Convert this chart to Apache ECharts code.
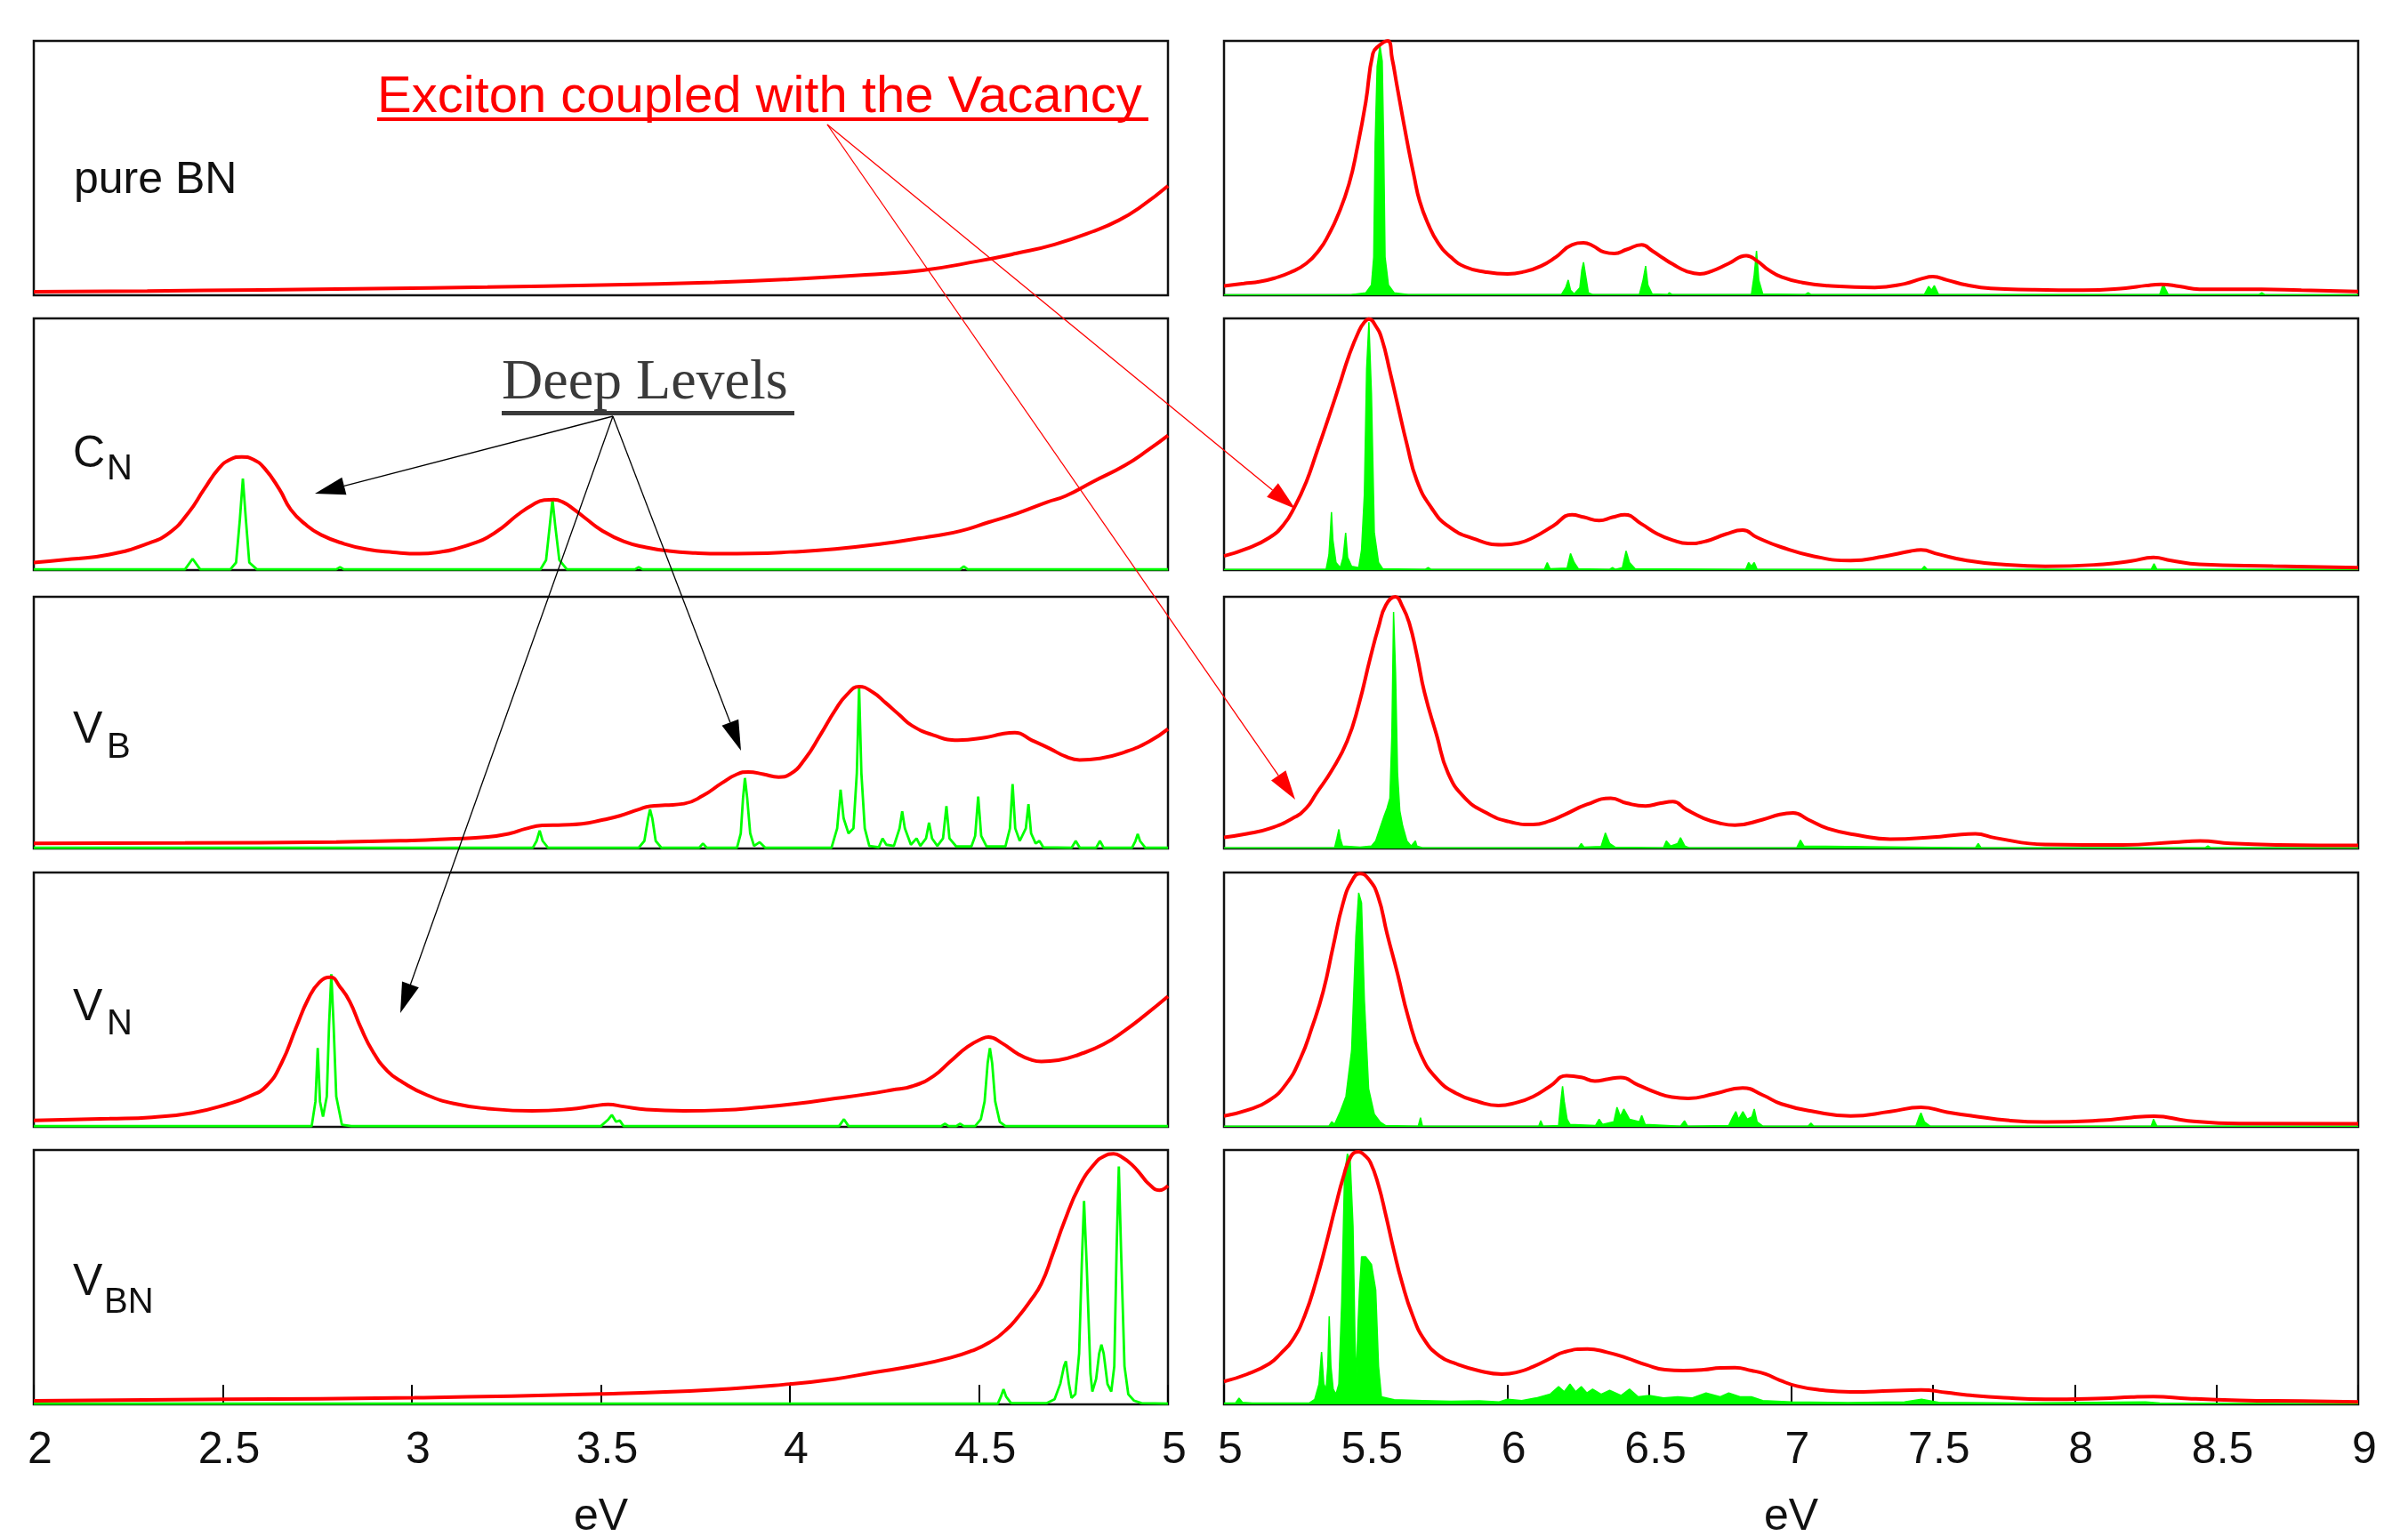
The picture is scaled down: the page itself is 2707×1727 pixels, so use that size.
<!DOCTYPE html>
<html><head><meta charset="utf-8">
<script src="https://cdn.jsdelivr.net/npm/echarts@6/dist/echarts.min.js"></script>
<style>html,body{margin:0;padding:0;background:#fff}#c{width:2707px;height:1727px}</style>
</head><body><div id="c"></div><script>
// ---------- tick labels / ranges ----------
const leftRange = [2, 5];
const rightRange = [5, 9];
const tickStep = 0.5;
const panelNames = ['pure BN', 'C_N', 'V_B', 'V_N', 'V_BN'];

// ---------- LEFT column (2-5 eV), values in % of panel height ----------
const pureBN_L_red = [[2.0,1.4],[2.3,1.7],[2.6,2.1],[2.9,2.6],[3.2,3.2],[3.5,4.0],[3.8,5.1],[4.0,6.3],[4.2,8.0],[4.35,9.8],[4.5,13.5],[4.6,16.5],[4.7,20],[4.8,25],[4.87,29.5],[4.93,35],[5.0,43]];

const CN_L_red = [[2.0,3.0],[2.1,4.4],[2.2,6.2],[2.3,10.5],[2.36,15],[2.41,23],[2.45,32],[2.49,40.5],[2.52,44],[2.55,45],[2.58,44],[2.61,40.5],[2.65,32],[2.68,24],[2.72,18],[2.76,14],[2.82,10.5],[2.88,8.3],[2.95,7.1],[3.02,6.5],[3.08,7.3],[3.12,8.6],[3.17,11],[3.2,13],[3.24,17],[3.28,22],[3.32,26],[3.35,27.8],[3.375,28],[3.4,27],[3.43,24],[3.46,20.5],[3.5,16],[3.56,11.4],[3.62,9],[3.68,7.6],[3.75,6.8],[3.82,6.5],[3.9,6.6],[4.0,7.2],[4.12,8.4],[4.25,10.6],[4.34,12.6],[4.38,13.5],[4.45,15.5],[4.525,19],[4.6,22.5],[4.68,27],[4.73,29.5],[4.8,35],[4.887,41.7],[4.95,48],[5.0,53.5]];
const CN_L_green = [[2.0,0.3],[2.40,0.3],[2.42,4.5],[2.44,0.3],[2.52,0.3],[2.535,3],[2.545,20],[2.553,36.4],[2.561,20],[2.57,3],[2.59,0.3],[2.80,0.3],[2.81,1.2],[2.82,0.3],[3.34,0.3],[3.355,4],[3.365,18],[3.372,28],[3.379,18],[3.39,4],[3.41,0.3],[3.59,0.3],[3.60,1.2],[3.61,0.3],[4.45,0.3],[4.46,1.5],[4.47,0.3],[5.0,0.3]];

const VB_L_red = [[2.0,2.0],[2.4,2.2],[2.8,2.6],[3.0,3.2],[3.1,3.8],[3.2,4.6],[3.26,6],[3.3,7.8],[3.345,9.2],[3.4,9.4],[3.45,9.8],[3.5,11.2],[3.55,13],[3.6,15.5],[3.63,16.8],[3.67,17.2],[3.72,17.8],[3.77,21],[3.82,26],[3.86,29.5],[3.89,30.4],[3.93,29.5],[3.97,28.4],[4.0,29.5],[4.04,35.6],[4.08,45],[4.12,55],[4.15,61],[4.183,64.3],[4.22,62],[4.253,57.9],[4.29,53],[4.323,48.8],[4.38,45],[4.444,43],[4.52,44.2],[4.56,45.5],[4.595,46],[4.64,43],[4.686,39.8],[4.73,36.5],[4.766,35.2],[4.82,35.8],[4.887,38.4],[4.95,42.5],[5.0,47.5]];
const VB_L_green = [[2.0,0.3],[3.32,0.3],[3.33,3],[3.338,7.1],[3.346,3],[3.36,0.3],[3.60,0.3],[3.615,3],[3.625,12],[3.63,15.5],[3.636,12],[3.645,3],[3.66,0.3],[3.76,0.3],[3.77,2],[3.78,0.3],[3.86,0.3],[3.87,6],[3.876,20],[3.881,28],[3.887,20],[3.895,6],[3.905,1],[3.92,2.5],[3.935,0.3],[4.11,0.3],[4.125,8],[4.134,23.4],[4.142,12],[4.155,6],[4.168,8],[4.177,30],[4.183,64],[4.189,30],[4.198,8],[4.21,1],[4.235,0.5],[4.245,4],[4.255,1.5],[4.275,1],[4.29,8],[4.297,14.8],[4.304,8],[4.32,1.5],[4.335,4],[4.345,1],[4.36,4],[4.368,10.2],[4.376,4],[4.39,1],[4.405,4],[4.414,16.8],[4.422,4],[4.44,0.8],[4.48,0.8],[4.49,5],[4.498,20.6],[4.506,5],[4.52,0.8],[4.57,0.8],[4.582,8],[4.589,25.6],[4.596,8],[4.608,3],[4.624,8],[4.631,17.6],[4.638,6],[4.65,2],[4.66,3],[4.67,0.5],[4.745,0.3],[4.756,3],[4.767,0.3],[4.81,0.3],[4.82,3],[4.83,0.3],[4.905,0.3],[4.914,3],[4.92,5.8],[4.926,3],[4.94,0.3],[5.0,0.3]];

const VN_L_red = [[2.0,2.5],[2.2,3.2],[2.313,3.8],[2.42,5.5],[2.514,9],[2.57,12],[2.615,16],[2.655,25],[2.695,39.5],[2.725,50],[2.755,56.8],[2.785,58.8],[2.81,55],[2.836,49.2],[2.865,39],[2.896,29.8],[2.935,22],[2.976,17.5],[3.04,12.5],[3.117,9],[3.2,7.2],[3.318,6.3],[3.42,7],[3.48,8.2],[3.519,8.8],[3.56,8],[3.62,6.8],[3.72,6.3],[3.82,6.6],[3.921,7.7],[4.02,9.2],[4.12,11.2],[4.2,12.8],[4.27,14.5],[4.324,16],[4.38,20],[4.424,25.7],[4.47,31.5],[4.51,34.8],[4.525,35.3],[4.56,33],[4.605,28.5],[4.635,26.5],[4.665,25.7],[4.71,26.2],[4.766,28.5],[4.83,32.5],[4.887,38],[4.94,44],[5.0,51.3]];
const VN_L_green = [[2.0,0.3],[2.735,0.3],[2.745,10],[2.751,31],[2.757,10],[2.765,4],[2.775,12],[2.781,40],[2.787,60],[2.793,40],[2.80,12],[2.815,0.8],[2.84,0.3],[3.50,0.3],[3.52,3],[3.529,4.7],[3.54,2],[3.55,2.5],[3.56,0.3],[4.13,0.3],[4.143,3],[4.155,0.3],[4.40,0.3],[4.41,1.2],[4.42,0.3],[4.44,0.3],[4.45,1.2],[4.46,0.3],[4.49,0.3],[4.505,3],[4.515,10],[4.523,25],[4.529,31],[4.535,25],[4.543,10],[4.555,2],[4.57,0.3],[5.0,0.3]];

const VBN_L_red = [[2.0,1.4],[2.51,2.0],[3.006,2.6],[3.499,4.1],[3.8,5.8],[4.0,8],[4.12,10],[4.22,12.5],[4.33,15.2],[4.424,18.3],[4.48,21],[4.525,24.1],[4.57,29],[4.605,34.6],[4.635,40.5],[4.665,47.4],[4.695,59],[4.726,71.9],[4.766,85.9],[4.806,94.6],[4.83,97.5],[4.856,98.5],[4.88,97],[4.906,94],[4.93,90],[4.947,87],[4.977,84.2],[5.0,86]];
const VBN_L_green = [[2.0,0.3],[4.55,0.3],[4.558,3],[4.565,6],[4.572,3],[4.585,0.5],[4.68,0.5],[4.70,2],[4.715,8],[4.725,15],[4.73,17],[4.738,8],[4.745,2.5],[4.755,4],[4.765,20],[4.772,55],[4.778,80],[4.785,55],[4.795,12],[4.80,5],[4.81,10],[4.818,20],[4.824,23.5],[4.83,20],[4.84,8],[4.85,5],[4.858,15],[4.864,60],[4.87,93.5],[4.876,60],[4.885,15],[4.895,4],[4.91,1.5],[4.93,0.5],[5.0,0.3]];

// ---------- RIGHT column (5-9 eV) ----------
const pureBN_R_red = [[5.0,3.7],[5.07,4.6],[5.128,5.4],[5.18,6.8],[5.232,8.9],[5.29,12.5],[5.337,18],[5.37,24],[5.4,31],[5.441,43.8],[5.47,58],[5.5,76],[5.525,95],[5.545,98],[5.577,100],[5.593,93],[5.609,83],[5.63,70],[5.65,58],[5.67,47],[5.69,37],[5.72,28],[5.755,20.6],[5.8,15],[5.85,11.2],[5.92,9.2],[6.0,8.4],[6.06,9.3],[6.118,11.5],[6.17,15],[6.227,19.8],[6.268,20.6],[6.3,19.5],[6.34,17],[6.377,16.4],[6.42,18],[6.473,19.8],[6.51,17.5],[6.55,14.5],[6.583,12.2],[6.63,9.5],[6.678,8.4],[6.72,9.5],[6.78,12.5],[6.842,15.6],[6.88,13.5],[6.92,10],[6.966,7.2],[7.04,5],[7.13,3.8],[7.295,3.1],[7.4,4.5],[7.46,6.5],[7.5,7.3],[7.55,6],[7.62,4],[7.704,2.7],[7.85,2.2],[8.03,2],[8.18,2.8],[8.25,3.8],[8.305,4.3],[8.37,3.5],[8.44,2.4],[8.66,2.4],[8.8,2],[9.0,1.5]];
const pureBN_R_green = [[5.0,0.2],[5.45,0.3],[5.50,1],[5.52,4],[5.528,15],[5.533,60],[5.54,90],[5.55,98],[5.558,92],[5.563,60],[5.568,15],[5.58,4],[5.6,1],[5.65,0.3],[6.19,0.3],[6.205,3],[6.214,6],[6.222,2],[6.235,0.5],[6.255,3],[6.262,10],[6.268,13],[6.275,8],[6.285,1],[6.3,0.3],[6.465,0.3],[6.478,6],[6.487,11.5],[6.495,4],[6.51,0.5],[6.565,0.3],[6.57,1],[6.58,0.3],[6.86,0.3],[6.87,8],[6.878,17.5],[6.886,6],[6.9,0.5],[7.05,0.3],[7.06,1],[7.07,0.3],[7.47,0.3],[7.485,3.5],[7.495,2],[7.505,3.8],[7.52,0.3],[8.3,0.3],[8.308,3],[8.313,4.3],[8.32,2.5],[8.33,0.3],[8.65,0.3],[8.66,1],[8.67,0.3],[9.0,0.2]];

const CN_R_red = [[5.0,5.6],[5.08,8.5],[5.16,12.9],[5.21,18],[5.25,25.3],[5.29,35],[5.325,46.2],[5.37,61],[5.407,73.5],[5.44,85],[5.475,94.8],[5.495,98.5],[5.511,99.7],[5.535,97],[5.557,91.7],[5.585,79],[5.612,65.9],[5.645,50],[5.68,35.6],[5.73,25],[5.79,17.5],[5.88,12.5],[5.981,10.1],[6.04,10.8],[6.09,12.9],[6.16,17.5],[6.227,22],[6.27,21],[6.323,19.7],[6.37,21],[6.413,22],[6.47,18.5],[6.528,14.4],[6.58,12],[6.637,10.6],[6.7,11.5],[6.77,14.3],[6.829,15.9],[6.88,13],[6.966,9.1],[7.08,5.5],[7.21,3.8],[7.33,5.5],[7.42,7.5],[7.458,8],[7.52,6.3],[7.62,3.8],[7.75,2.2],[7.896,1.5],[8.1,2.3],[8.2,3.6],[8.278,5],[8.34,3.8],[8.44,2.3],[8.7,1.6],[9.0,1.0]];
const CN_R_green = [[5.0,0.3],[5.36,0.3],[5.37,6],[5.375,15],[5.379,23],[5.384,12],[5.395,3],[5.41,1],[5.42,5],[5.429,14.8],[5.436,5],[5.45,1.5],[5.475,1],[5.485,8],[5.495,30],[5.503,80],[5.511,98.5],[5.52,70],[5.53,15],[5.545,3],[5.56,0.5],[5.71,0.3],[5.72,1],[5.73,0.3],[6.13,0.3],[6.14,3],[6.15,0.5],[6.21,0.8],[6.222,6.6],[6.235,3],[6.25,0.5],[6.36,0.3],[6.37,1],[6.38,0.3],[6.405,1],[6.418,7.6],[6.43,3],[6.45,0.5],[6.84,0.3],[6.85,3],[6.86,1.5],[6.87,3],[6.88,0.3],[7.46,0.3],[7.47,1.5],[7.48,0.3],[8.27,0.3],[8.28,2.5],[8.29,0.3],[9.0,0.3]];

const VB_R_red = [[5.0,4.4],[5.08,5.8],[5.16,7.9],[5.242,12],[5.29,16],[5.325,21.8],[5.38,31],[5.434,42.6],[5.475,57],[5.516,75.8],[5.545,88],[5.571,96.7],[5.604,100],[5.63,96],[5.653,89.7],[5.68,77],[5.707,62],[5.75,45],[5.79,30],[5.85,20],[5.926,14.1],[6.0,10.8],[6.09,9.5],[6.15,11],[6.2,13.4],[6.28,17.5],[6.364,20],[6.42,18],[6.487,16.9],[6.54,18],[6.583,18.6],[6.63,15.5],[6.692,12],[6.75,10],[6.802,9.3],[6.9,11.5],[6.96,13.5],[7.007,14.1],[7.06,11.5],[7.13,7.9],[7.24,5.2],[7.349,3.7],[7.5,4.5],[7.6,5.6],[7.65,5.8],[7.72,4.2],[7.896,1.6],[8.17,1.4],[8.35,2.5],[8.443,3],[8.55,2],[8.72,1.4],[9.0,1.2]];
const VB_R_green = [[5.0,0.3],[5.39,0.3],[5.398,4],[5.405,7.6],[5.41,4],[5.418,1],[5.48,0.5],[5.52,1],[5.535,3],[5.55,8],[5.565,13],[5.575,16],[5.585,20],[5.592,45],[5.598,94],[5.605,70],[5.612,30],[5.62,15],[5.63,9],[5.645,3],[5.66,1],[5.675,3],[5.68,1],[5.7,0.3],[6.25,0.3],[6.26,2],[6.27,0.5],[6.33,0.8],[6.345,6.2],[6.36,2],[6.38,0.5],[6.55,0.3],[6.56,3],[6.575,1],[6.6,2],[6.61,4.3],[6.625,1],[6.64,0.3],[7.02,0.3],[7.033,3.3],[7.045,1],[7.65,0.3],[7.66,2],[7.67,0.3],[8.46,0.3],[8.47,1],[8.48,0.3],[9.0,0.3]];

const VN_R_red = [[5.0,4.3],[5.08,6.5],[5.16,10.5],[5.22,17],[5.27,27],[5.31,39],[5.35,53.3],[5.385,71],[5.42,88],[5.45,96.5],[5.48,99.6],[5.51,97.5],[5.543,90.7],[5.575,76],[5.612,60.2],[5.65,43],[5.694,28.5],[5.75,19],[5.817,13.3],[5.9,9.8],[5.968,8.4],[6.03,9.5],[6.09,11.9],[6.15,16],[6.208,20.1],[6.26,19.5],[6.308,18],[6.355,18.8],[6.399,19.4],[6.46,16.5],[6.528,13.3],[6.58,11.7],[6.637,11.2],[6.73,13],[6.829,15.3],[6.9,12.5],[6.966,9],[7.08,6],[7.21,4.3],[7.35,6],[7.458,7.7],[7.55,5.8],[7.64,4.3],[7.77,2.5],[7.896,1.9],[8.1,2.6],[8.2,3.7],[8.28,4.2],[8.4,2.4],[8.58,1.3],[9.0,1.2]];
const VN_R_green = [[5.0,0.3],[5.37,0.3],[5.38,2],[5.39,1],[5.41,6],[5.43,12],[5.45,30],[5.465,75],[5.475,92],[5.485,88],[5.495,50],[5.51,15],[5.53,5],[5.55,2],[5.57,0.5],[5.685,0.3],[5.693,3.6],[5.70,0.3],[6.11,0.3],[6.117,2.4],[6.125,0.3],[6.18,0.5],[6.188,10],[6.194,16],[6.2,10],[6.21,3],[6.22,1],[6.31,0.5],[6.323,3],[6.335,1],[6.375,2],[6.386,7.7],[6.398,4],[6.41,7],[6.43,3],[6.465,2],[6.473,4.5],[6.485,1],[6.61,0.3],[6.624,2.4],[6.635,0.3],[6.78,0.5],[6.795,4],[6.805,6],[6.815,3],[6.83,6],[6.845,3],[6.862,4],[6.87,7],[6.88,2],[6.9,0.3],[7.06,0.3],[7.07,1.5],[7.08,0.3],[7.44,0.3],[7.452,4],[7.458,5.5],[7.47,2],[7.49,0.3],[8.27,0.3],[8.278,3],[8.29,0.3],[9.0,0.3]];

const VBN_R_red = [[5.0,9],[5.08,11.8],[5.16,16],[5.2,20],[5.242,25.3],[5.285,35],[5.325,48.6],[5.36,63],[5.393,77.7],[5.42,89],[5.448,97.6],[5.475,99.3],[5.495,98],[5.516,95.2],[5.545,86],[5.571,74.2],[5.6,60],[5.626,48.6],[5.665,35],[5.707,25.3],[5.76,19],[5.817,16],[5.9,13.2],[5.98,11.9],[6.04,12.8],[6.09,14.8],[6.15,18],[6.2,20.6],[6.282,21.8],[6.35,20.5],[6.418,18.3],[6.49,15.5],[6.555,13.6],[6.62,13.3],[6.692,13.6],[6.75,14.3],[6.802,14.4],[6.86,13.3],[6.91,11.9],[6.96,9.5],[7.02,7.2],[7.1,5.7],[7.21,4.9],[7.35,5.3],[7.458,5.7],[7.55,4.6],[7.62,3.7],[7.75,2.6],[7.896,2],[8.1,2.4],[8.2,2.9],[8.278,3.1],[8.4,2.3],[8.58,1.6],[8.8,1.3],[9.0,1]];
const VBN_R_green = [[5.0,0.5],[5.04,0.5],[5.053,2.5],[5.065,0.8],[5.1,0.5],[5.3,0.5],[5.32,2],[5.335,8],[5.344,20.6],[5.352,8],[5.36,6],[5.366,15],[5.371,34.6],[5.377,15],[5.385,6],[5.395,4],[5.405,8],[5.415,40],[5.425,90],[5.435,98.5],[5.445,96],[5.455,70],[5.462,25],[5.467,10],[5.472,30],[5.478,45],[5.485,58],[5.5,58],[5.52,55],[5.535,45],[5.545,15],[5.555,3],[5.6,1.8],[5.7,1.5],[5.8,1.2],[5.9,1.4],[5.97,1],[6.0,2],[6.05,1.5],[6.1,2.5],[6.15,4],[6.18,7],[6.2,5],[6.22,8],[6.24,5],[6.26,7],[6.28,4.5],[6.3,6],[6.33,4],[6.36,5.5],[6.4,3.5],[6.43,6],[6.46,3],[6.5,3.5],[6.55,2.5],[6.6,3],[6.65,2.5],[6.7,4.5],[6.75,3],[6.78,4.5],[6.82,3],[6.86,3],[6.9,1.5],[7.0,1],[7.2,0.7],[7.4,1],[7.46,2],[7.52,0.8],[7.8,0.5],[8.25,1],[8.3,0.5],[9.0,0.3]];

// ---------- layout ----------
const rowTops = [46, 358, 671, 981, 1293];
const rowH = [286, 283, 283, 286, 286];
const colLeft = [38, 1376];
const panelW = 1275;

const leftRed = [pureBN_L_red, CN_L_red, VB_L_red, VN_L_red, VBN_L_red];
const leftGreen = [null, CN_L_green, VB_L_green, VN_L_green, VBN_L_green];
const rightRed = [pureBN_R_red, CN_R_red, VB_R_red, VN_R_red, VBN_R_red];
const rightGreen = [pureBN_R_green, CN_R_green, VB_R_green, VN_R_green, VBN_R_green];

const RED = '#ff0000', GREEN = '#00ff00';
const grids = [], xAxes = [], yAxes = [], series = [];
for (let r = 0; r < 5; r++) {
  for (let c = 0; c < 2; c++) {
    const gi = grids.length;
    const last = r === 4;
    const rng = c === 0 ? leftRange : rightRange;
    grids.push({left: colLeft[c], top: rowTops[r], width: panelW, height: rowH[r],
      outerBoundsMode: 'none', containLabel: false,
      show: true, borderColor: '#111', borderWidth: 2.5, backgroundColor: 'transparent'});
    xAxes.push({gridIndex: gi, type: 'value', min: rng[0], max: rng[1], interval: tickStep,
      axisLine: {show: false}, splitLine: {show: false},
      axisTick: {show: last, inside: true, length: 22, lineStyle: {color: '#000', width: 2}},
      axisLabel: {show: last, showMinLabel: true, showMaxLabel: true, margin: 27,
        fontFamily: 'Liberation Sans', fontSize: 50, color: '#111', padding: [0, 0, 0, 14],
        formatter: v => String(v)},
      name: last ? 'eV' : '', nameLocation: 'middle', nameGap: 102,
      nameTextStyle: {fontFamily: 'Liberation Sans', fontSize: 50, color: '#111'}});
    yAxes.push({gridIndex: gi, type: 'value', min: 0, max: 100, show: false});
    const g = c === 0 ? leftGreen[r] : rightGreen[r];
    if (g) {
      series.push({type: 'line', xAxisIndex: gi, yAxisIndex: gi, data: g, showSymbol: false,
        smooth: false, z: 2, lineStyle: {color: GREEN, width: c === 0 ? 2.8 : 1.5},
        areaStyle: c === 1 ? {color: GREEN, opacity: 1} : undefined, silent: true});
    }
    series.push({type: 'line', xAxisIndex: gi, yAxisIndex: gi, data: c === 0 ? leftRed[r] : rightRed[r],
      showSymbol: false, smooth: 0.5, z: 3,
      lineStyle: {color: RED, width: 4}, silent: true});
  }
}

// ---------- annotations ----------
function txt(t, x, y, size, fam, fill) {
  return {type: 'text', x: x, y: y, z: 100, silent: true,
    style: {text: t, fontSize: size, fontFamily: fam, fill: fill,
      align: 'left', verticalAlign: 'middle', textAlign: 'left', textVerticalAlign: 'middle'}};
}
function arrow(x1, y1, x2, y2, len, w, color, lw) {
  const dx = x2 - x1, dy = y2 - y1, d = Math.hypot(dx, dy);
  const ux = dx / d, uy = dy / d, nx = -uy, ny = ux;
  const bx = x2 - ux * len, by = y2 - uy * len;
  return [
    {type: 'line', z: 100, silent: true, shape: {x1: x1, y1: y1, x2: bx, y2: by},
      style: {stroke: color, lineWidth: lw}},
    {type: 'polygon', z: 100, silent: true,
      shape: {points: [[x2, y2], [bx + nx * w / 2, by + ny * w / 2], [bx - nx * w / 2, by - ny * w / 2]]},
      style: {fill: color}}
  ];
}
const SANS = 'Liberation Sans';
const graphics = [
  txt('pure BN', 83, 203, 50, SANS, '#111'),
  txt('C', 82, 511, 50, SANS, '#111'), txt('N', 120, 528, 40, SANS, '#111'),
  txt('V', 82, 821, 50, SANS, '#111'), txt('B', 120, 841, 40, SANS, '#111'),
  txt('V', 82, 1133, 50, SANS, '#111'), txt('N', 120, 1152, 40, SANS, '#111'),
  txt('V', 82, 1442, 50, SANS, '#111'), txt('BN', 117, 1465, 40, SANS, '#111'),
  txt('Exciton coupled with the Vacancy', 424, 110, 58, SANS, RED),
  {type: 'rect', z: 100, silent: true, shape: {x: 424, y: 132, width: 867, height: 4}, style: {fill: RED}},
  txt('Deep Levels', 564, 431, 64, 'Liberation Serif', '#3a3a3a'),
  {type: 'rect', z: 100, silent: true, shape: {x: 564, y: 462, width: 329, height: 5}, style: {fill: '#3a3a3a'}},
  ...arrow(930, 140, 1456, 572, 33, 20, RED, 1.3),
  ...arrow(930, 140, 1456, 899, 33, 20, RED, 1.3),
  ...arrow(689, 468, 354, 555, 34, 20, '#000', 1.3),
  ...arrow(689, 468, 833, 844, 34, 20, '#000', 1.3),
  ...arrow(689, 468, 450, 1139, 34, 20, '#000', 1.3)
];

const chart = echarts.init(document.getElementById('c'), null, {renderer: 'canvas'});
chart.setOption({
  animation: false, backgroundColor: '#fff',
  grid: grids, xAxis: xAxes, yAxis: yAxes, series: series, graphic: graphics
});
</script></body></html>
